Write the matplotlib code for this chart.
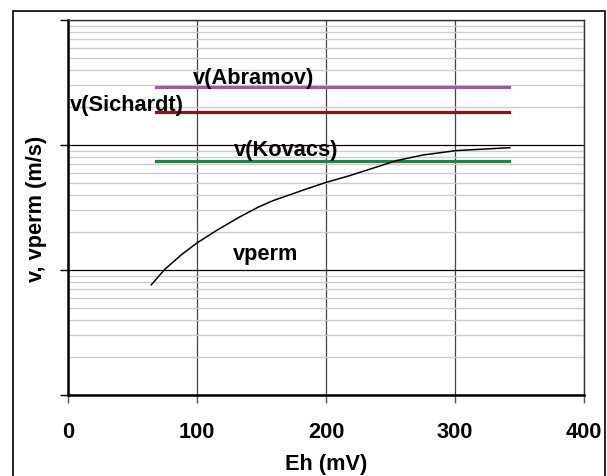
import matplotlib.pyplot as plt
import matplotlib.patches as mpatches
import numpy as np

plt.rcParams['font.family'] = ['Liberation Sans', 'DejaVu Sans']
plt.rcParams['font.weight'] = 'bold'

# permeation velocity curve (Eh in mV, v in m/s)
eh_perm = [64.6, 75.0, 87.8, 100.2, 116.5, 133.3, 147.5, 159.1, 185.0,
           199.9, 218.6, 254.8, 275.4, 301.3, 342.6]
v_perm = [7.60e-6, 1.01e-5, 1.32e-5, 1.65e-5, 2.11e-5, 2.66e-5, 3.18e-5, 3.59e-5, 4.45e-5,
          5.01e-5, 5.69e-5, 7.50e-5, 8.32e-5, 9.02e-5, 9.51e-5]

# constant velocities from literature
eh_const = [68, 342]
v_abramov = 2.9e-4
v_sichardt = 1.84e-4
v_kovacs = 7.5e-5

x_ticks = [0, 100, 200, 300, 400]

fig = plt.figure(figsize=(6.07, 4.77), dpi=100)
ax = fig.add_axes([0.112, 0.170, 0.850, 0.786])

# outer chart border
fig.patches.append(mpatches.Rectangle((0.0214, -0.02), 0.975, 0.995, transform=fig.transFigure,
                                      fill=False, edgecolor='black', linewidth=1.2))

ax.set_yscale('log')
ax.set_ylim(1e-6, 1e-3)
ax.set_xlim(0, 400)

# grid
ax.yaxis.grid(True, which='minor', color='#cccccc', linewidth=1.0)
ax.yaxis.grid(True, which='major', color='black', linewidth=0.9)
ax.xaxis.grid(True, which='major', color='#444444', linewidth=0.9)
ax.set_axisbelow(True)

ax.plot(eh_const, [v_abramov] * 2, color='#9b5ca6', linewidth=2.3)
ax.plot(eh_const, [v_sichardt] * 2, color='#821719', linewidth=2.3)
ax.plot(eh_const, [v_kovacs] * 2, color='#178a44', linewidth=2.3)
ax.plot(eh_perm, v_perm, color='black', linewidth=1.1)

fs = 15.7
ax.text(97, 3.15e-4, 'v(Abramov)', fontsize=fs, fontweight='bold', va='baseline')
ax.text(1.5, 1.89e-4, 'v(Sichardt)', fontsize=fs, fontweight='bold', va='baseline')
ax.text(129, 8.36e-5, 'v(Kovacs)', fontsize=fs, fontweight='bold', va='baseline')
ax.text(128, 1.22e-5, 'vperm', fontsize=fs, fontweight='bold', va='baseline')

ax.set_xticks(x_ticks)
ax.set_xticklabels([str(t) for t in x_ticks], fontsize=fs, fontweight='bold')
ax.yaxis.set_major_locator(plt.LogLocator(base=10, numticks=10))
ax.yaxis.set_minor_locator(plt.LogLocator(base=10, subs=np.arange(2, 10), numticks=20))
ax.set_yticklabels([])
ax.yaxis.set_minor_formatter(plt.NullFormatter())
ax.tick_params(axis='y', which='major', direction='out', length=6, width=1, labelleft=False)
ax.tick_params(axis='y', which='minor', length=0)
ax.tick_params(axis='x', which='major', direction='out', length=6, width=1, color='#555555', pad=13)

ax.spines['left'].set_linewidth(1.8)
ax.spines['bottom'].set_linewidth(1.8)
ax.spines['top'].set_linewidth(1.0)
ax.spines['right'].set_linewidth(1.0)
ax.spines['top'].set_color('#333333')
ax.spines['right'].set_color('#333333')

ax.set_xlabel('Eh (mV)', fontsize=fs, fontweight='bold', labelpad=8)
ax.set_ylabel('v, vperm (m/s)', fontsize=fs, fontweight='bold', labelpad=9)

plt.savefig('out.png', dpi=100)
